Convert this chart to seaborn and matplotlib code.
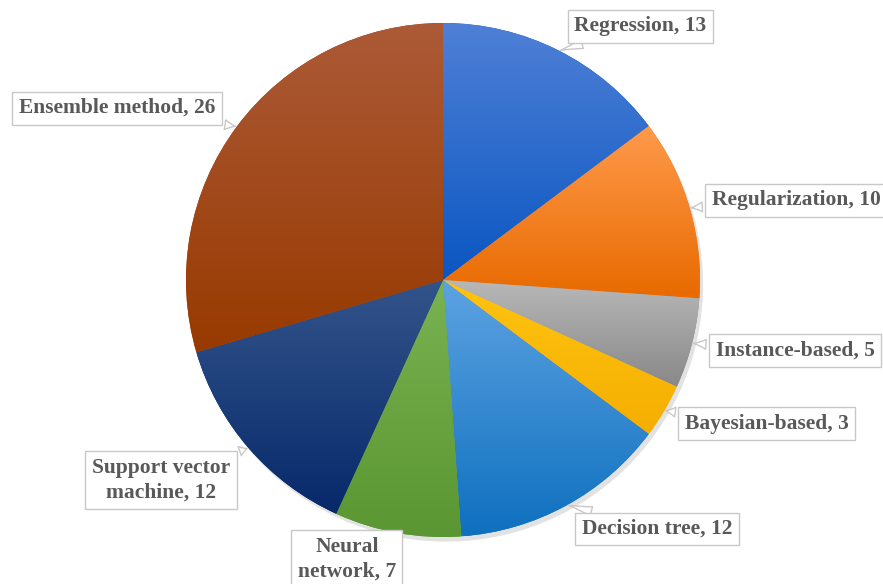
import numpy as np
import matplotlib
matplotlib.use("Agg")
import matplotlib.pyplot as plt
import seaborn as sns
from matplotlib.colors import LinearSegmentedColormap

categories = ["Regression", "Regularization", "Instance-based", "Bayesian-based",
              "Decision tree", "Neural network", "Support vector machine", "Ensemble method"]
values = [13, 10, 5, 3, 12, 7, 12, 26]
label_texts = ["Regression, 13", "Regularization, 10", "Instance-based, 5", "Bayesian-based, 3",
               "Decision tree, 12", "Neural\nnetwork, 7", "Support vector\nmachine, 12",
               "Ensemble method, 26"]
top_colors = ["#4f80d6", "#ff9a4c", "#b8b8b8", "#ffc412", "#5ea3e2", "#7ab352", "#33548a", "#ac5a38"]
bottom_colors = ["#0a56c2", "#e86a00", "#888888", "#f5ae00", "#0e70bf", "#5a9632", "#07296a", "#983a00"]
label_pos = [(0.767, 0.988), (1.375, 0.311), (1.37, -0.276), (1.26, -0.560),
             (0.833, -0.969), (-0.374, -1.085), (-1.097, -0.778), (-1.268, 0.669)]

sns.set_theme(style="white")
plt.rcParams['font.family'] = ['Liberation Serif', 'DejaVu Serif']

fig = plt.figure(figsize=(8.83, 5.84), dpi=100)
ax = fig.add_axes([(443 - 257) / 883, (584 - 537) / 584, 514 / 883, 514 / 584])
ax.set_xlim(-1, 1)
ax.set_ylim(-1, 1)
ax.set_aspect('equal')
ax.axis('off')

# soft shadow
shadow_wedges, _ = ax.pie(values, startangle=90, counterclock=False, radius=1.0,
                          center=(0.012, -0.018), colors=["#d0d0d0"] * len(values),
                          wedgeprops=dict(linewidth=0))
for w in shadow_wedges:
    w.set_alpha(0.6)
    w.set_zorder(0)

wedges, _ = ax.pie(values, startangle=90, counterclock=False, radius=1.0,
                   colors=bottom_colors, wedgeprops=dict(linewidth=0))

grad = np.linspace(0, 1, 256).reshape(-1, 1)
for w, ct, cb in zip(wedges, top_colors, bottom_colors):
    w.set_zorder(1)
    ext = w.get_path().get_extents()
    cmap = LinearSegmentedColormap.from_list("g", [ct, cb])
    im = ax.imshow(grad, cmap=cmap, aspect='auto', origin='upper',
                   extent=[ext.x0, ext.x1, ext.y0, ext.y1], zorder=2, interpolation='bilinear')
    im.set_clip_path(w)

ax.set_xlim(-1, 1)
ax.set_ylim(-1, 1)

for w, txt, pos in zip(wedges, label_texts, label_pos):
    mid = np.deg2rad((w.theta1 + w.theta2) / 2)
    xy = (np.cos(mid) * 0.995, np.sin(mid) * 0.995)
    ax.annotate(txt, xy=xy, xytext=pos, ha='center', va='center',
                fontsize=15.5, fontweight='bold', color='#595959', linespacing=1.3,
                annotation_clip=False, zorder=5,
                bbox=dict(boxstyle='square,pad=0.3', fc='white', ec='#c8c8c8', lw=1.0),
                arrowprops=dict(arrowstyle='wedge,tail_width=0.45,shrink_factor=0.4',
                                fc='white', ec='#c8c8c8', lw=1.0))

fig.savefig("out.png", dpi=100)
